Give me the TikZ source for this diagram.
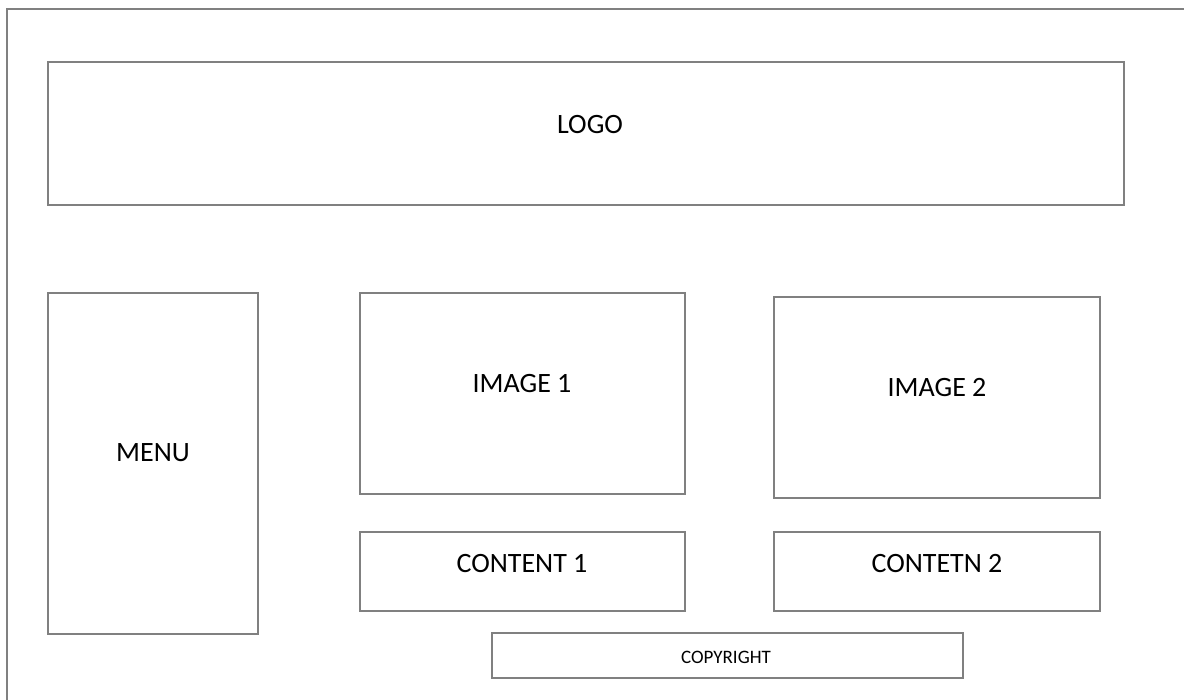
\documentclass[tikz,border=0pt]{standalone}
\usepackage{fontspec}
\setmainfont{Carlito}
\begin{document}
\begin{tikzpicture}[x=1pt,y=-1pt,
  box/.style={draw=black!50,line width=2.5pt},
  lbl/.style={anchor=base,inner sep=0pt,font=\fontsize{28}{30}\selectfont},
  small/.style={anchor=base,inner sep=0pt,font=\fontsize{19}{21}\selectfont}]
\useasboundingbox (0,0) rectangle (1184,700);
\draw[box] (7,700) -- (7,9) -- (1184,9);
\draw[box] (48,62) rectangle (1124,205);
\draw[box] (48,293) rectangle (258,634);
\draw[box] (360,293) rectangle (685,494);
\draw[box] (774,297) rectangle (1100,498);
\draw[box] (360,532) rectangle (685,611);
\draw[box] (774,532) rectangle (1100,611);
\draw[box] (492,633) rectangle (963,678);
\node[lbl] (logo) at (590,134) {LOGO};
\node[lbl] (menu) at (153,462) {MENU};
\node[lbl] (img1) at (522,393) {IMAGE 1};
\node[lbl] (img2) at (937,397) {IMAGE 2};
\node[lbl] (c1) at (522,572) {CONTENT 1};
\node[lbl] (c2) at (937,572) {CONTETN 2};
\node[small] (copy) at (726,663) {COPYRIGHT};
\end{tikzpicture}
\end{document}
